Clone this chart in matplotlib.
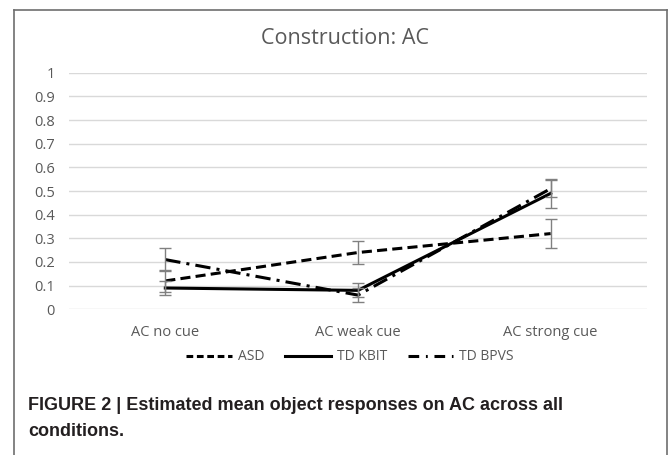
import matplotlib.pyplot as plt
from matplotlib.lines import Line2D

# chart data
conditions = ["AC no cue", "AC weak cue", "AC strong cue"]
asd = [0.12, 0.24, 0.32]
asd_err = [0.045, 0.05, 0.06]
td_kbit = [0.09, 0.08, 0.49]
td_kbit_err = [0.03, 0.03, 0.06]
td_bpvs = [0.21, 0.06, 0.51]
td_bpvs_err = [0.05, 0.03, 0.035]
yticks = [0, 0.1, 0.2, 0.3, 0.4, 0.5, 0.6, 0.7, 0.8, 0.9, 1]
ytick_labels = ["0", "0.1", "0.2", "0.3", "0.4", "0.5", "0.6", "0.7", "0.8", "0.9", "1"]

gray_txt = "#595959"
plt.rcParams['font.family'] = ['Open Sans', 'DejaVu Sans']

fig = plt.figure(figsize=(6.69, 4.55), dpi=100)
ax = fig.add_axes([69 / 669, 1 - 309.3 / 455, 578 / 669, 236.6 / 455])

x = list(range(len(conditions)))
lw = 2.2
ax.plot(x, asd, color="black", lw=lw, dashes=(3.3, 1.7), zorder=3)
ax.plot(x, td_kbit, color="black", lw=lw, zorder=3)
ax.plot(x, td_bpvs, color="black", lw=lw, dashes=(5, 2, 1, 2), zorder=3)

for vals, errs in [(asd, asd_err), (td_kbit, td_kbit_err), (td_bpvs, td_bpvs_err)]:
    ax.errorbar(x, vals, yerr=errs, fmt="none", ecolor="#808080",
                elinewidth=1, capsize=4, capthick=1, zorder=4)

ax.set_xlim(-0.5, 2.5)
ax.set_ylim(0, 1)
ax.set_yticks(yticks)
ax.set_yticklabels(ytick_labels)
ax.set_xticks(x)
ax.set_xticklabels(conditions)
ax.tick_params(length=0, labelsize=10.5, labelcolor=gray_txt)
ax.tick_params(axis="y", pad=10)
ax.tick_params(axis="x", pad=11)
ax.grid(axis="y", color="#d9d9d9", lw=1)
ax.set_axisbelow(True)
for s in ax.spines.values():
    s.set_visible(False)

fig.text(345 / 669, 1 - 38 / 455, "Construction: AC", ha="center", va="center",
         fontsize=15.5, color=gray_txt)

handles = [
    Line2D([], [], color="black", lw=lw, dashes=(2.2, 1.2)),
    Line2D([], [], color="black", lw=lw),
    Line2D([], [], color="black", lw=lw, dashes=(3.5, 2.2, 0.6, 2.2)),
]
fig.legend(handles, ["ASD", "TD KBIT", "TD BPVS"], ncol=3, frameon=False,
           loc="center", bbox_to_anchor=(350 / 669, 1 - 357 / 455),
           fontsize=10, labelcolor=gray_txt, handlelength=3.3,
           handletextpad=0.4, columnspacing=1.5)

# outer frame
frame = dict(color="#6e6e6e", lw=1.2, transform=fig.transFigure, clip_on=False)
fig.add_artist(Line2D([14 / 669, 667 / 669], [1 - 10 / 455, 1 - 10 / 455], **frame))
fig.add_artist(Line2D([14 / 669, 14 / 669], [0, 1 - 10 / 455], **frame))
fig.add_artist(Line2D([667 / 669, 667 / 669], [0, 1 - 10 / 455], **frame))

cap = dict(fontsize=13, fontweight="bold", color="#231f20",
           family=["Liberation Sans Narrow", "Liberation Sans", "DejaVu Sans"])
fig.text(28 / 669, 1 - 405 / 455, "FIGURE 2 | Estimated mean object responses on AC across all",
         va="center", **cap)
fig.text(28 / 669, 1 - 432 / 455, "conditions.", va="center", **cap)

fig.savefig("out.png", dpi=100)
